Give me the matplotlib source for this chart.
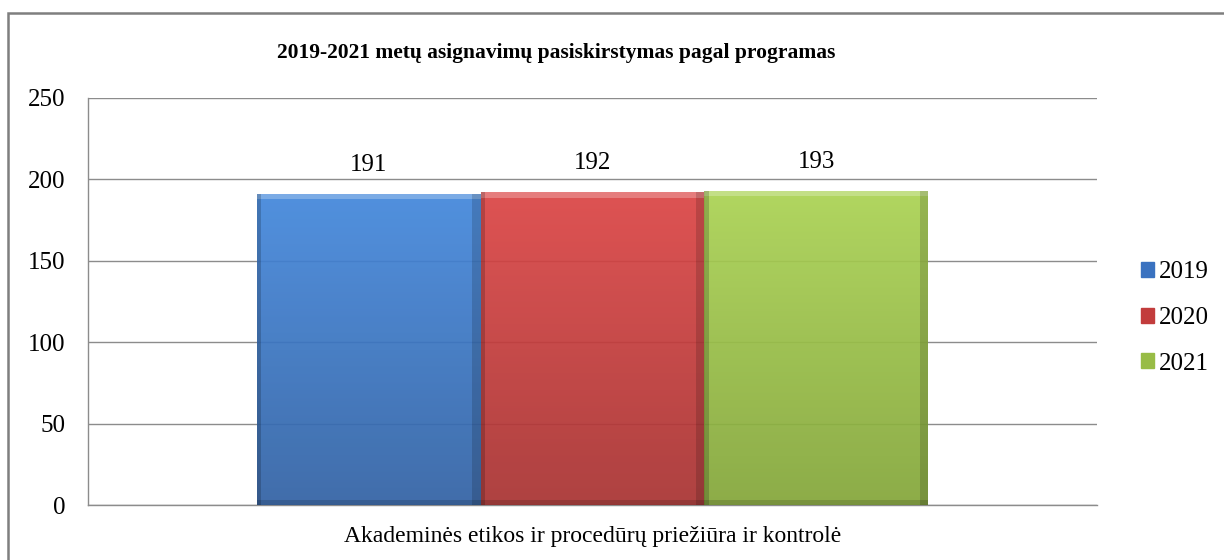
import numpy as np
import matplotlib
matplotlib.use("Agg")
import matplotlib.pyplot as plt
from matplotlib.patches import Rectangle, Patch
from matplotlib.colors import LinearSegmentedColormap

# data
years = ["2019", "2020", "2021"]
values = [191, 192, 193]
category = "Akademinės etikos ir procedūrų priežiūra ir kontrolė"
title = "2019-2021 metų asignavimų pasiskirstymas pagal programas"
yticks = [0, 50, 100, 150, 200, 250]

# top / bottom colour of each bar gradient
top_cols = ["#4488dc", "#dc4646", "#abd354"]
bot_cols = ["#3262a4", "#a83332", "#84a63a"]
legend_cols = ["#3a72c0", "#c23c3c", "#98bc46"]

plt.rcParams["font.family"] = ["Liberation Serif", "DejaVu Serif"]

fig = plt.figure(figsize=(12.24, 5.6), dpi=100)
ax = fig.add_axes([88 / 1224, 55 / 560, 1009 / 1224, 407 / 560])

# chart border (runs off the right and bottom edge)
fig.patches.append(Rectangle((8 / 1224, -0.1), 1.2, 1.1 - 13 / 560,
                             transform=fig.transFigure, fill=False,
                             edgecolor="#7f7f7f", linewidth=1.8, zorder=0))

ax.set_xlim(-0.5, 0.5)
ax.set_ylim(0, 250)
ax.set_yticks(yticks)
ax.yaxis.grid(True, color="#8c8c8c", linewidth=1.0)
ax.set_axisbelow(True)
for s in ["top", "right"]:
    ax.spines[s].set_visible(False)
for s in ["left", "bottom"]:
    ax.spines[s].set_color("#8c8c8c")
    ax.spines[s].set_linewidth(1.0)
ax.tick_params(axis="y", length=0, pad=16, labelsize=18)
ax.tick_params(axis="x", length=0, pad=15, labelsize=17)
ax.set_xticks([0])
ax.set_xticklabels([category])

width = 0.222
xs = [-width, 0, width]
bars = ax.bar(xs, values, width=width, color="none", edgecolor="none", zorder=3)

grad = np.linspace(0, 1, 256).reshape(-1, 1)
for b, tc, bc, v in zip(bars, top_cols, bot_cols, values):
    cmap = LinearSegmentedColormap.from_list("g", [bc, tc])
    x0 = b.get_x()
    im = ax.imshow(grad, cmap=cmap, aspect="auto", origin="lower",
                   extent=[x0, x0 + width, 0, v], zorder=3, alpha=0.93)
    im.set_clip_path(b)
    # bevel: light top edge, darker sides
    ax.add_patch(Rectangle((x0, v - 3.2), width, 3.2, facecolor="white",
                           alpha=0.25, edgecolor="none", zorder=4))
    ax.add_patch(Rectangle((x0, 0), 0.004, v, facecolor="black",
                           alpha=0.18, edgecolor="none", zorder=4))
    ax.add_patch(Rectangle((x0 + width - 0.008, 0), 0.008, v, facecolor="black",
                           alpha=0.15, edgecolor="none", zorder=4))
    ax.add_patch(Rectangle((x0, 0), width, 3, facecolor="black",
                           alpha=0.14, edgecolor="none", zorder=4))
    ax.annotate(str(v), (x0 + width / 2, v), xytext=(0, 13),
                textcoords="offset points", ha="center", va="bottom",
                fontsize=18, zorder=5)

ax.set_xlim(-0.5, 0.5)

fig.text(556 / 1224, 1 - 53 / 560, title, ha="center", va="center",
         fontsize=15.5, fontweight="bold")

handles = [Patch(facecolor=c, edgecolor=c) for c in legend_cols]
fig.legend(handles, years, loc="center left", bbox_to_anchor=(1128 / 1224, 1 - 318 / 560),
           frameon=False, fontsize=18, handlelength=0.55, handleheight=0.55,
           handletextpad=0.2, labelspacing=0.95, borderpad=0)

fig.savefig("out.png", dpi=100)
